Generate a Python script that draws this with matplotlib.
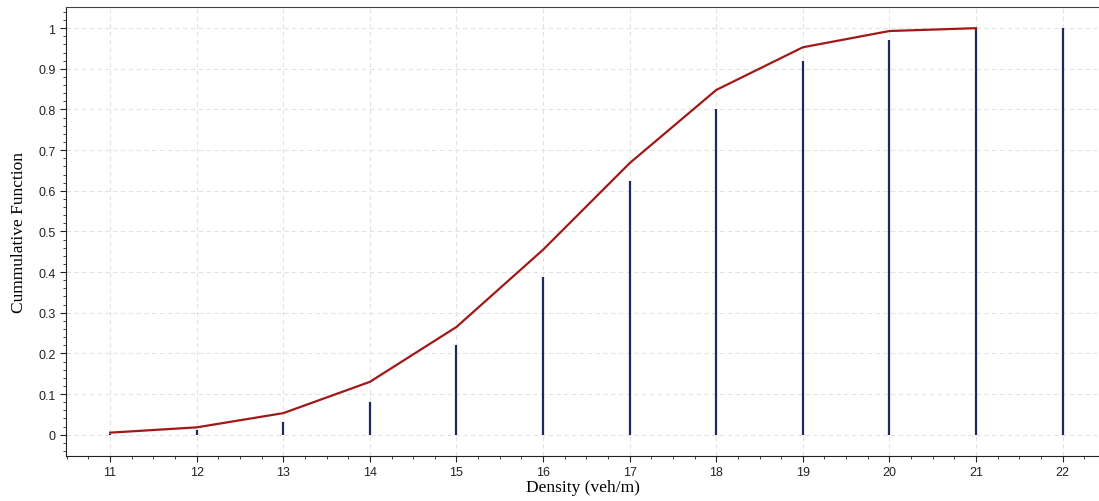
import matplotlib
matplotlib.use("Agg")
import matplotlib.pyplot as plt
from matplotlib.ticker import MultipleLocator

# empirical density distribution
density = [11, 12, 13, 14, 15, 16, 17, 18, 19, 20, 21, 22]
stem_prob = [0.002, 0.012, 0.032, 0.081, 0.221, 0.389, 0.624, 0.800, 0.919, 0.971, 0.998, 1.0]

# fitted cumulative curve
curve_x = [11, 12, 13, 14, 15, 16, 17, 18, 19, 20, 21]
curve_y = [0.005, 0.018, 0.053, 0.130, 0.265, 0.455, 0.668, 0.848, 0.953, 0.993, 1.0]

fig = plt.figure(figsize=(10.99, 5.02), dpi=100)
ax = fig.add_axes([0.060, 0.090, 0.940, 0.894])

ax.vlines(density, 0, stem_prob, color="#1b2a63", linewidth=1.6, zorder=3)
ax.plot(curve_x, curve_y, color="#a01818", linewidth=1.6, zorder=4)

ax.set_xlim(10.49, 22.42)
ax.set_ylim(-0.052, 1.052)
ax.xaxis.set_major_locator(MultipleLocator(1))
ax.xaxis.set_minor_locator(MultipleLocator(0.25))
ax.yaxis.set_major_locator(MultipleLocator(0.1))
ax.yaxis.set_minor_locator(MultipleLocator(0.02))
ax.yaxis.set_major_formatter(plt.FuncFormatter(lambda v, p: f"{v:g}"))

ax.grid(True, which="major", color="#e2e2e2", linestyle=(0, (4, 3)), linewidth=0.8)
ax.set_axisbelow(True)

for lbl in ax.get_xticklabels() + ax.get_yticklabels():
    lbl.set_family("Liberation Sans")
ax.tick_params(which="major", length=4, width=0.8, labelsize=9, colors="#222222")
ax.tick_params(axis="x", which="major", pad=3)
ax.tick_params(which="minor", length=2.5, width=0.6, colors="#222222")

ax.spines["right"].set_visible(False)
ax.spines["top"].set_color("#444444")
ax.spines["left"].set_color("#222222")
ax.spines["bottom"].set_color("#222222")

ax.set_xlabel("Density (veh/m)", family="Liberation Serif", fontsize=12.5, labelpad=1)
ax.set_ylabel("Cummulative Function", family="Liberation Serif", fontsize=12.5, labelpad=8)

fig.savefig("out.png", dpi=100)
